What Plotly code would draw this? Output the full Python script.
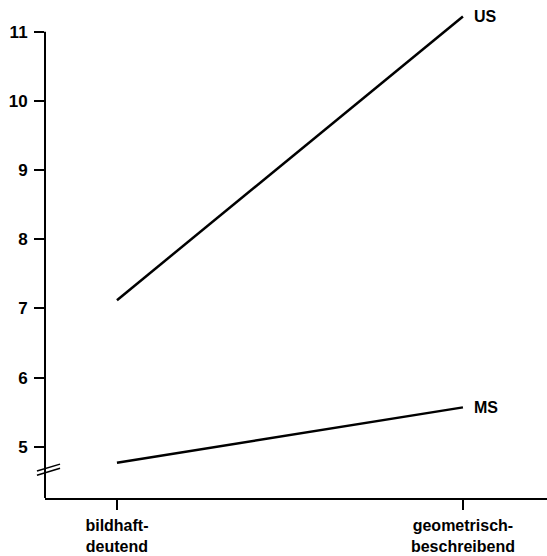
import plotly.graph_objects as go

categories = ["bildhaft-<br>deutend", "geometrisch-<br>beschreibend"]
series_names = ["US", "MS"]
us_values = [7.12, 11.22]
ms_values = [4.77, 5.57]
y_ticks = [5, 6, 7, 8, 9, 10, 11]

xpos = [0, 1]
font = dict(family="Liberation Sans, Arial, sans-serif", size=15, color="black")

fig = go.Figure()
for name, vals in zip(series_names, [us_values, ms_values]):
    fig.add_trace(go.Scatter(x=xpos, y=vals, mode="lines",
                             line=dict(color="black", width=2.5),
                             showlegend=False, hoverinfo="skip"))
    fig.add_annotation(x=xpos[-1], y=vals[-1], text="<b>" + name + "</b>",
                       showarrow=False, xanchor="left", yanchor="middle",
                       xshift=9, font=dict(family=font["family"], size=16, color="black"))

ymin, ymax = 4.26, 11.3
# y axis line (ends at top tick)
fig.add_shape(type="line", xref="paper", yref="y", x0=0, x1=0, y0=ymin, y1=y_ticks[-1],
              line=dict(color="black", width=2))
# axis break marks
for dy in [0, 0.06]:
    fig.add_shape(type="line", xref="paper", yref="y", x0=-0.016, x1=0.03,
                  y0=4.59 + dy, y1=4.69 + dy, line=dict(color="black", width=1.5))

fig.update_layout(
    width=547, height=556,
    margin=dict(l=45, r=0, t=11, b=58),
    plot_bgcolor="white", paper_bgcolor="white",
    font=font,
    xaxis=dict(range=[-0.208, 1.243], tickvals=xpos,
               ticktext=["<b>" + c + "</b>" for c in categories],
               showline=True, linecolor="black", linewidth=2,
               ticks="outside", ticklen=10, tickwidth=2, tickcolor="black",
               tickfont=dict(size=16), ticklabelstandoff=2,
               showgrid=False, zeroline=False, fixedrange=True, automargin=False),
    yaxis=dict(range=[ymin, ymax], tickvals=y_ticks,
               ticktext=["<b>%d</b>" % t for t in y_ticks],
               tickfont=dict(size=17), ticklabelstandoff=3,
               showline=False, ticks="outside", ticklen=10, tickwidth=2,
               tickcolor="black", showgrid=False, zeroline=False, fixedrange=True,
               automargin=False),
)

fig.write_html("out.html", config={"displayModeBar": False},
               post_script="document.body.style.margin='0';document.body.style.overflow='hidden';")
